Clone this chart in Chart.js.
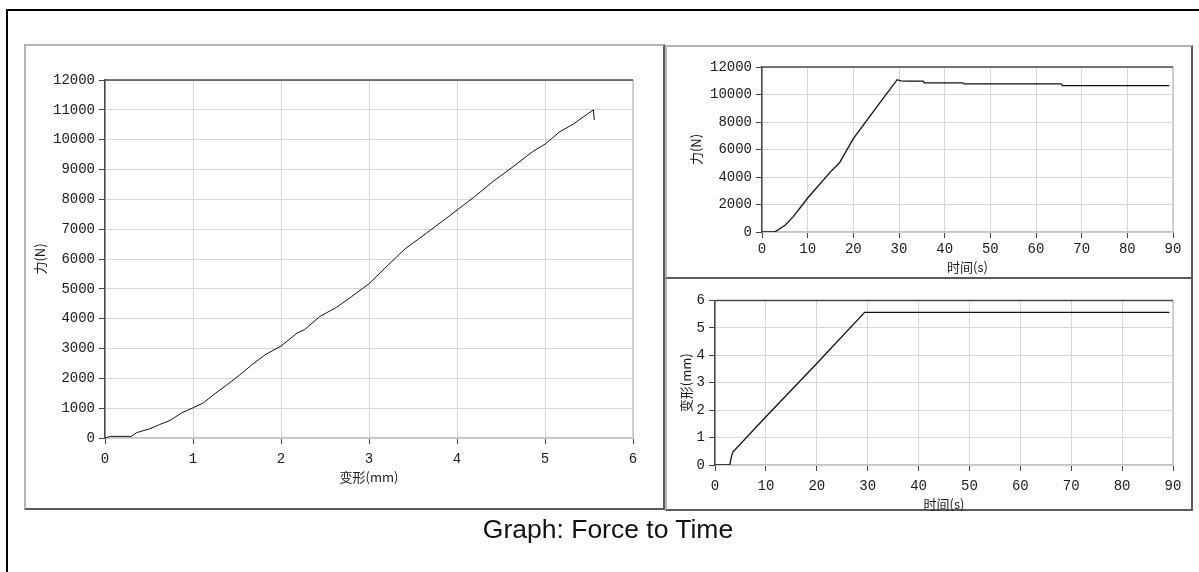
<!DOCTYPE html>
<html>
<head>
<meta charset="utf-8">
<script src="https://cdn.jsdelivr.net/npm/chart.js@4.4.1/dist/chart.umd.min.js"></script>
<style>
  body { margin: 0; background: #fff; width: 1199px; height: 572px; overflow: hidden; position: relative; }
  #frame { position: absolute; left: 6px; top: 9px; width: 1300px; height: 700px; border-left: 2px solid #000; border-top: 2px solid #000; }
  .panel { position: absolute; box-sizing: border-box; border: 2px solid; border-color: #b4b4b4 #5a5a5a #5a5a5a #b4b4b4; }
  canvas { position: absolute; }
  #caption { position: absolute; left: 0; width: 1216px; top: 514px; line-height: 30px; text-align: center;
             font-family: "Liberation Sans", Arial, sans-serif; font-size: 26.5px; color: #111; }
</style>
</head>
<body>
<div id="frame"></div>
<div class="panel" style="left:24px; top:44px; width:641px; height:466px;"></div>
<div class="panel" style="left:665px; top:45px; width:528px; height:234px;"></div>
<div class="panel" style="left:665px; top:279px; width:528px; height:232px; border-top-width:0;"></div>

<canvas id="forceDeform" width="637" height="462" style="left:26px; top:46px;"></canvas>
<canvas id="forceTime" width="524" height="231" style="left:667px; top:46px;"></canvas>
<canvas id="deformTime" width="524" height="238" style="left:667px; top:281px;"></canvas>

<div id="caption">Graph: Force to Time</div>

<script>
// left: force vs deformation
const deformMm = [0, 0.06, 0.30, 0.36, 0.51, 0.62, 0.74, 0.87, 1.00, 1.12, 1.25, 1.38, 1.53, 1.68, 1.83,
  2.00, 2.18, 2.27, 2.44, 2.63, 2.78, 2.93, 3.00, 3.18, 3.41, 3.65, 3.88, 4.00, 4.20, 4.41, 4.64,
  4.86, 5.00, 5.17, 5.32, 5.55, 5.56];
const forceN = [0, 55, 55, 180, 310, 450, 590, 840, 1010, 1180, 1490, 1770, 2110, 2480, 2810,
  3080, 3510, 3640, 4070, 4380, 4690, 5020, 5170, 5690, 6340, 6860, 7370, 7640, 8090, 8600, 9100,
  9600, 9850, 10270, 10520, 11000, 10660];

// top right: force vs time
const timeF = [0, 2.8, 5.1, 6.9, 10.0, 15.0, 17.0, 20.0, 25.1, 29.6, 30.4, 31.9, 35.3, 35.5,
  43.9, 44.2, 65.5, 65.8, 89.2];
const forceT = [0, 0, 510, 1140, 2470, 4370, 5050, 6790, 9080, 11080, 10990, 10980, 10980, 10850,
  10850, 10780, 10780, 10650, 10650];

// bottom right: deformation vs time
const timeD = [0, 2.9, 3.2, 3.5, 10.0, 20.0, 29.4, 89.3];
const deformT = [0, 0, 0.28, 0.47, 1.76, 3.7, 5.57, 5.57];

// tick labels
const deformTicks = [0, 1, 2, 3, 4, 5, 6];
const forceTicks = [0, 1000, 2000, 3000, 4000, 5000, 6000, 7000, 8000, 9000, 10000, 11000, 12000];
const forceTicksSmall = [0, 2000, 4000, 6000, 8000, 10000, 12000];
const timeTicks = [0, 10, 20, 30, 40, 50, 60, 70, 80, 90];
const deformTicksSmall = [0, 1, 2, 3, 4, 5, 6];

const tickFont = { family: '"Liberation Mono", monospace', size: 14 };
const titleFont = { family: '"Noto Sans CJK SC", sans-serif', size: 13 };

// top and right edges of the plot box (sunken look: dark top, light right)
const plotFrame = {
  id: 'plotFrame',
  afterDraw(chart) {
    const { ctx, chartArea: a } = chart;
    ctx.save();
    ctx.lineWidth = 1.5;
    ctx.strokeStyle = '#c4c4c4';
    ctx.beginPath(); ctx.moveTo(a.right, a.top); ctx.lineTo(a.right, a.bottom); ctx.stroke();
    ctx.strokeStyle = '#4a4a4a';
    ctx.beginPath(); ctx.moveTo(a.left, a.top); ctx.lineTo(a.right, a.top); ctx.stroke();
    ctx.restore();
  }
};

const makeAxis = (ticks, title, size, labelPad, titlePad, horizontal) => ({
  type: 'linear',
  min: ticks[0],
  max: ticks[ticks.length - 1],
  afterBuildTicks: (axis) => { axis.ticks = ticks.map(v => ({ value: v })); },
  afterFit: (axis) => { if (horizontal) axis.height = size; else axis.width = size; },
  grid: { color: '#d6d6d6', lineWidth: 1, tickColor: '#444', tickLength: 6 },
  border: horizontal ? { color: '#c4c4c4', width: 1.5 } : { color: '#4a4a4a', width: 1.5 },
  ticks: {
    autoSkip: false, maxRotation: 0, color: '#1a1a1a', font: tickFont, padding: labelPad,
    callback: (v) => String(v) // plain numbers, no thousands separator
  },
  title: {
    display: true, text: title, color: '#1a1a1a', font: titleFont,
    padding: horizontal ? { top: 0, bottom: titlePad } : { top: titlePad, bottom: 0 }
  }
});

const makeChart = (id, xs, ys, o) => {
  const points = xs.map((x, i) => ({ x: x, y: ys[i] }));
  return new Chart(document.getElementById(id), {
    type: 'scatter',
    data: {
      datasets: [{
        data: points,
        showLine: true,
        borderColor: '#111',
        borderWidth: o.lineWidth,
        pointRadius: 0,
        tension: 0
      }]
    },
    options: {
      responsive: false,
      animation: false,
      layout: { padding: { top: o.padTop, right: o.padRight, left: 0, bottom: 0 } },
      plugins: { legend: { display: false }, tooltip: { enabled: false } },
      scales: {
        x: makeAxis(o.xTicks, o.xTitle, o.xSize, o.xLabelPad, o.xTitlePad, true),
        y: makeAxis(o.yTicks, o.yTitle, o.ySize, 4, o.yTitlePad, false)
      }
    },
    plugins: [plotFrame]
  });
};

makeChart('forceDeform', deformMm, forceN, {
  padTop: 34, padRight: 30, lineWidth: 1,
  xTicks: deformTicks, xTitle: '变形(mm)', xSize: 70, xLabelPad: 7, xTitlePad: 23.5,
  yTicks: forceTicks, yTitle: '力(N)', ySize: 79, yTitlePad: 6
});

makeChart('forceTime', timeF, forceT, {
  padTop: 21, padRight: 18, lineWidth: 1.3,
  xTicks: timeTicks, xTitle: '时间(s)', xSize: 45, xLabelPad: 3, xTitlePad: 2,
  yTicks: forceTicksSmall, yTitle: '力(N)', ySize: 95, yTitlePad: 21
});

makeChart('deformTime', timeD, deformT, {
  padTop: 19.5, padRight: 18, lineWidth: 1.3,
  xTicks: timeTicks, xTitle: '时间(s)', xSize: 54, xLabelPad: 7, xTitlePad: 7,
  yTicks: deformTicksSmall, yTitle: '变形(mm)', ySize: 48, yTitlePad: 11
});
</script>
</body>
</html>
